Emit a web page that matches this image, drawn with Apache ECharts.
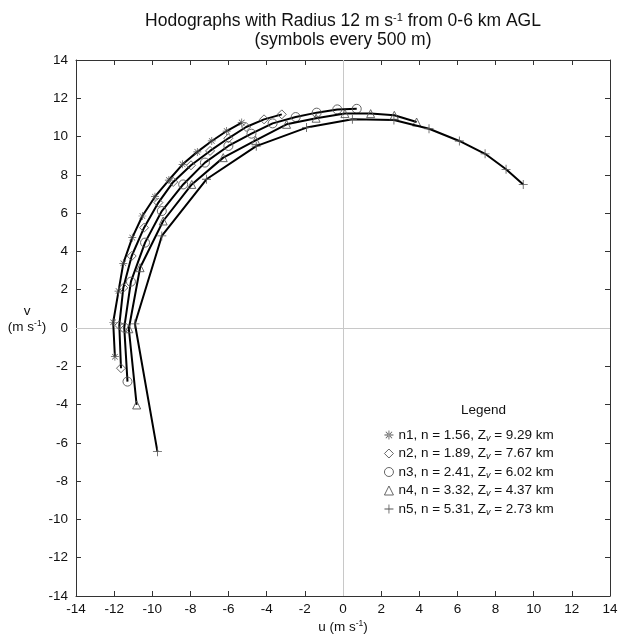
<!DOCTYPE html>
<html>
<head>
<meta charset="utf-8">
<script src="https://cdn.jsdelivr.net/npm/echarts@6/dist/echarts.min.js"></script>
<style>
html,body{margin:0;padding:0;background:#fff;}
#chart{width:625px;height:634px;}
</style>
</head>
<body>
<div id="chart"></div>
<script>
// ---- data (u, v in m/s), symbols every 500 m ----
var seriesNames = ['n1', 'n2', 'n3', 'n4', 'n5'];
var nValues = ['1.56', '1.89', '2.41', '3.32', '5.31'];
var zvValues = ['9.29', '7.67', '6.02', '4.37', '2.73'];

var n1U = [-11.96, -12.05, -11.77, -11.52, -11.05, -10.52, -9.86, -9.13, -8.41, -7.64, -6.88, -6.10, -5.31];
var n1V = [-1.5, 0.3, 1.93, 3.38, 4.72, 5.85, 6.86, 7.73, 8.55, 9.2, 9.77, 10.29, 10.73];

var n2U = [-11.64, -11.73, -11.52, -11.08, -10.43, -9.68, -8.90, -7.97, -6.97, -6.01, -5.08, -4.14, -3.21];
var n2V = [-2.1, 0.14, 2.1, 3.76, 5.24, 6.55, 7.63, 8.5, 9.25, 9.91, 10.5, 10.9, 11.16];

var n3U = [-11.30, -11.47, -11.12, -10.38, -9.50, -8.38, -7.24, -6.01, -4.80, -3.69, -2.48, -1.38, -0.30, 0.72];
var n3V = [-2.8, 0.02, 2.42, 4.46, 6.11, 7.5, 8.64, 9.51, 10.15, 10.69, 11.02, 11.25, 11.42, 11.45];

var n4U = [-10.82, -11.23, -10.64, -9.43, -7.93, -6.28, -4.58, -2.96, -1.41, 0.1, 1.45, 2.69, 3.86];
var n4V = [-4.02, -0.04, 3.15, 5.59, 7.5, 8.9, 9.8, 10.64, 10.96, 11.2, 11.2, 11.11, 10.76];

var n5U = [-9.73, -10.91, -9.50, -7.16, -4.55, -1.91, 0.49, 2.67, 4.51, 6.10, 7.45, 8.55, 9.45];
var n5V = [-6.46, 0.22, 4.81, 7.77, 9.5, 10.47, 10.9, 10.87, 10.41, 9.77, 9.1, 8.29, 7.5];

// ---- symbols ----
var plusPath = 'path://M-0.9,-10L0.9,-10L0.9,-0.9L10,-0.9L10,0.9L0.9,0.9L0.9,10L-0.9,10L-0.9,0.9L-10,0.9L-10,-0.9L-0.9,-0.9Z';
var starPath = 'path://M-0.9,-10L0.9,-10L0.9,10L-0.9,10Z' +
  'M-10,-0.9L10,-0.9L10,0.9L-10,0.9Z' +
  'M-7.6,-6.4L6.4,7.6L7.6,6.4L-6.4,-7.6Z' +
  'M-6.4,7.6L7.6,-6.4L6.4,-7.6L-7.6,6.4Z';

var markGrey = '#555';
var symbolDefs = [
  {symbol: starPath, size: 8, style: {color: markGrey, borderWidth: 0}},
  {symbol: 'diamond', size: 9, style: {color: 'rgba(0,0,0,0)', borderColor: markGrey, borderWidth: 0.9}},
  {symbol: 'circle', size: 9, style: {color: 'rgba(0,0,0,0)', borderColor: markGrey, borderWidth: 0.9}},
  {symbol: 'triangle', size: 8, style: {color: 'rgba(0,0,0,0)', borderColor: markGrey, borderWidth: 0.9}},
  {symbol: plusPath, size: 9, style: {color: markGrey, borderWidth: 0}}
];

var allU = [n1U, n2U, n3U, n4U, n5U];
var allV = [n1V, n2V, n3V, n4V, n5V];

function pairs(u, v) {
  return u.map(function (x, i) { return [x, v[i]]; });
}

var FONT = '"Liberation Sans", Arial, Helvetica, sans-serif';

var series = seriesNames.map(function (name, k) {
  return {
    name: name,
    type: 'line',
    data: pairs(allU[k], allV[k]),
    symbol: symbolDefs[k].symbol,
    symbolSize: symbolDefs[k].size,
    showAllSymbol: true,
    lineStyle: {color: '#000', width: 2},
    itemStyle: symbolDefs[k].style,
    z: 5 + k,
    animation: false,
    emphasis: {disabled: true}
  };
});

// zero reference lines
series.push({
  type: 'line',
  data: [],
  silent: true,
  z: 1,
  markLine: {
    silent: true,
    symbol: 'none',
    label: {show: false},
    lineStyle: {color: '#c8c8c8', width: 1, type: 'solid'},
    animation: false,
    data: [{xAxis: 0}, {yAxis: 0}]
  }
});

var legendData = seriesNames.map(function (name, k) {
  var st = symbolDefs[k].style;
  return {
    name: name,
    icon: symbolDefs[k].symbol,
    itemStyle: {color: st.color === 'rgba(0,0,0,0)' ? '#fff' : st.color, borderColor: st.borderColor || st.color, borderWidth: st.borderWidth}
  };
});

var tickStyle = {fontSize: 13.5, color: '#111', fontFamily: FONT};

var baseAxis = {
  type: 'value',
  min: -14,
  max: 14,
  interval: 2,
  splitLine: {show: false},
  axisLine: {show: true, onZero: false, lineStyle: {color: '#333', width: 1}},
  axisTick: {show: true, inside: true, length: 5, lineStyle: {color: '#333'}}
};

var option = {
  backgroundColor: '#fff',
  animation: false,
  textStyle: {fontFamily: FONT},
  title: [{
    text: 'Hodographs with Radius 12 m s{sup|-1} from 0-6 km AGL\n(symbols every 500 m)',
    left: 338,
    top: 7,
    textAlign: 'center',
    textStyle: {
      fontSize: 17.5, fontWeight: 'normal', color: '#111', fontFamily: FONT, lineHeight: 19, align: 'center',
      rich: {sup: {fontSize: 11, verticalAlign: 'top', padding: [0, 0, 8, 0], color: '#111', fontFamily: FONT}}
    }
  }, {
    text: 'Legend',
    left: 456,
    top: 398,
    textStyle: {fontSize: 13.5, fontWeight: 'normal', color: '#111', fontFamily: FONT}
  }],
  grid: {left: 76, right: 15, top: 60, bottom: 38, outerBoundsMode: 'none', containLabel: false},
  xAxis: [
    Object.assign({}, baseAxis, {
      position: 'bottom',
      name: 'u (m s{sup|-1})',
      nameLocation: 'middle',
      nameGap: 23,
      nameMoveOverlap: false,
      nameTextStyle: {fontSize: 13.5, color: '#111', fontFamily: FONT,
        rich: {sup: {fontSize: 8.5, verticalAlign: 'top', padding: [0, 0, 7, 0], color: '#111'}}},
      axisLabel: Object.assign({margin: 6}, tickStyle)
    }),
    Object.assign({}, baseAxis, {position: 'top', axisLabel: {show: false}})
  ],
  yAxis: [
    Object.assign({}, baseAxis, {
      position: 'left',
      name: 'v\n(m s{sup|-1})',
      nameLocation: 'middle',
      nameRotate: 0,
      nameGap: 49,
      nameMoveOverlap: false,
      nameTextStyle: {fontSize: 13.5, color: '#111', fontFamily: FONT, align: 'center', lineHeight: 16,
        padding: [0, 0, 17, 0],
        rich: {sup: {fontSize: 8.5, verticalAlign: 'top', padding: [0, 0, 7, 0], color: '#111'}}},
      axisLabel: Object.assign({margin: 8}, tickStyle)
    }),
    Object.assign({}, baseAxis, {position: 'right', axisLabel: {show: false}})
  ],
  legend: {
    orient: 'vertical',
    left: 379,
    top: 423,
    itemWidth: 9,
    itemHeight: 9,
    itemGap: 4,
    selectedMode: false,
    data: legendData,
    formatter: function (name) {
      var k = seriesNames.indexOf(name);
      return '{a|' + name + ', n = ' + nValues[k] + ', Z}{s|v}{a| = ' + zvValues[k] + ' km}';
    },
    textStyle: {
      fontFamily: FONT,
      color: '#111',
      rich: {
        a: {fontSize: 13.5, color: '#111', fontFamily: FONT, lineHeight: 15},
        s: {fontSize: 9, color: '#111', fontFamily: FONT, fontStyle: 'italic', verticalAlign: 'bottom', padding: [5, 0, 0, 0], lineHeight: 15}
      }
    }
  },
  series: series
};

var chart = echarts.init(document.getElementById('chart'), null, {renderer: 'canvas'});
chart.setOption(option);
</script>
</body>
</html>
